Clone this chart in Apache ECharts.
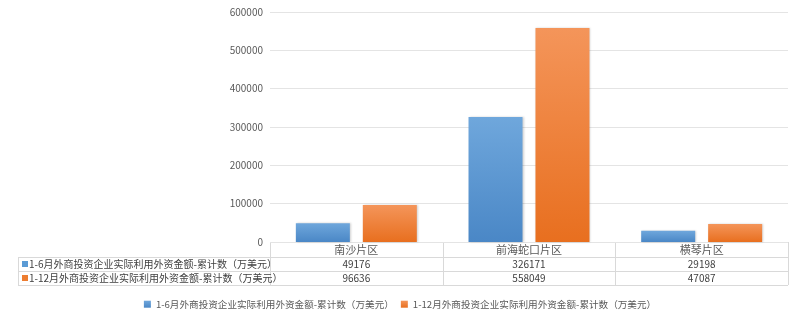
<!DOCTYPE html>
<html><head><meta charset="utf-8">
<script src="https://cdn.jsdelivr.net/npm/echarts@6/dist/echarts.min.js"></script>
<style>html,body{margin:0;padding:0;background:#fff}#c{width:800px;height:323px}</style>
</head><body><div id="c"></div>
<script>
var categories = ['南沙片区', '前海蛇口片区', '横琴片区'];
var seriesNames = ['1-6月外商投资企业实际利用外资金额-累计数（万美元）', '1-12月外商投资企业实际利用外资金额-累计数（万美元）'];
var values1 = [49176, 326171, 29198];
var values2 = [96636, 558049, 47087];
var yTicks = [0, 100000, 200000, 300000, 400000, 500000, 600000];

var GL = 270, GR = 12, GT = 12, GB = 81, W = 800, H = 323;
var gw = W - GL - GR;
var y0 = H - GB;
var rowH = [15, 14, 14];
var tableLeft = 18;
var border = '#d9d9d9';
var txt = '#404040';
var font = '"Noto Sans CJK SC", "Noto Sans", sans-serif';

function grad(top, bot) {
  return new echarts.graphic.LinearGradient(0, 0, 0, 1, [{offset: 0, color: top}, {offset: 1, color: bot}]);
}
var colors = ['#5b9bd5', '#ed7d31'];

var graphics = [];
var n = categories.length;
var cw = gw / n;
var r1 = y0 + rowH[0], r2 = r1 + rowH[1], r3 = r2 + rowH[2];
function line(x1, y1, x2, y2) {
  graphics.push({type: 'line', shape: {x1: x1, y1: y1, x2: x2, y2: y2}, style: {stroke: border, lineWidth: 1}, silent: true});
}
line(GL, y0 + 0.5, W - GR, y0 + 0.5);
line(tableLeft, r1 + 0.5, W - GR, r1 + 0.5);
line(tableLeft, r2 + 0.5, W - GR, r2 + 0.5);
line(tableLeft, r3 + 0.5, W - GR, r3 + 0.5);
line(tableLeft + 0.5, r1, tableLeft + 0.5, r3);
for (var i = 0; i <= n; i++) {
  var x = Math.round(GL + i * cw) + 0.5;
  line(x, y0, x, r3);
}
for (var i = 0; i < n; i++) {
  var cx = GL + (i + 0.5) * cw;
  graphics.push({type: 'text', x: cx, y: y0 + rowH[0] / 2 + 0.5, style: {text: categories[i], fill: '#595959', font: '11px ' + font, textAlign: 'center', textVerticalAlign: 'middle'}, silent: true});
  graphics.push({type: 'text', x: cx, y: r1 + rowH[1] / 2 + 0.5, style: {text: String(values1[i]), fill: txt, font: '10px ' + font, textAlign: 'center', textVerticalAlign: 'middle'}, silent: true});
  graphics.push({type: 'text', x: cx, y: r2 + rowH[2] / 2 + 0.5, style: {text: String(values2[i]), fill: txt, font: '10px ' + font, textAlign: 'center', textVerticalAlign: 'middle'}, silent: true});
}
var rowTops = [r1, r2];
for (var s = 0; s < 2; s++) {
  graphics.push({type: 'rect', shape: {x: tableLeft + 4, y: rowTops[s] + 4, width: 6, height: 6}, style: {fill: colors[s]}, silent: true});
  graphics.push({type: 'text', x: tableLeft + 11, y: rowTops[s] + 7.5, style: {text: seriesNames[s], fill: txt, font: '10px ' + font, textAlign: 'left', textVerticalAlign: 'middle'}, silent: true});
}

var chart = echarts.init(document.getElementById('c'), null, {renderer: 'canvas'});
chart.setOption({
  animation: false,
  backgroundColor: '#fff',
  grid: {left: GL, right: GR, top: GT, bottom: GB, containLabel: false},
  legend: {
    bottom: 9, left: 'center',
    itemWidth: 7, itemHeight: 7, itemGap: 7,
    icon: 'rect',
    textStyle: {color: '#595959', fontSize: 9.6, fontFamily: font},
    data: seriesNames
  },
  xAxis: {
    type: 'category', data: categories,
    axisLine: {show: false}, axisTick: {show: false}, axisLabel: {show: false}
  },
  yAxis: {
    type: 'value', min: yTicks[0], max: yTicks[yTicks.length - 1], interval: yTicks[1] - yTicks[0],
    axisLine: {show: false}, axisTick: {show: false},
    axisLabel: {color: '#595959', fontSize: 10, margin: 7, fontFamily: font, formatter: function (v) { return String(v); }},
    splitLine: {lineStyle: {color: '#e4e4e4'}}
  },
  series: [
    {name: seriesNames[0], type: 'bar', data: values1, barWidth: 54, barGap: '24%',
     itemStyle: {color: grad('#6fa7dc', '#4a87c6'), shadowColor: 'rgba(0,0,0,0.18)', shadowBlur: 2, shadowOffsetX: 1, shadowOffsetY: 0}},
    {name: seriesNames[1], type: 'bar', data: values2, barWidth: 54,
     itemStyle: {color: grad('#f4955a', '#e86f1f'), shadowColor: 'rgba(0,0,0,0.18)', shadowBlur: 2, shadowOffsetX: 1, shadowOffsetY: 0}}
  ],
  color: colors,
  graphic: graphics
});
</script></body></html>
